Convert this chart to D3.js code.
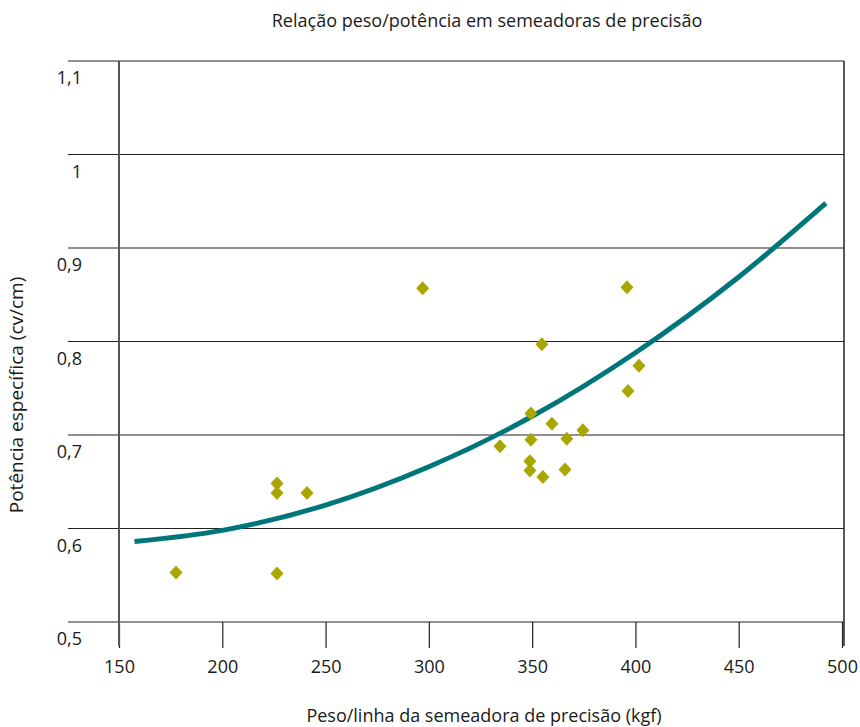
<!DOCTYPE html>
<html>
<head>
<meta charset="utf-8">
<script src="https://cdn.jsdelivr.net/npm/d3@7"></script>
<style>
  body { margin: 0; background: #fff; }
  svg { display: block; }
  text { font-family: "Open Sans", "Noto Sans", sans-serif; fill: #1a1a1a; }
</style>
</head>
<body>
<svg id="chart" width="860" height="727"></svg>
<script>
// Peso por linha (kgf) das semeadoras avaliadas
const pesoLinha = [177.6, 226.5, 226.5, 226.5, 241.0, 297.0, 395.9, 354.7, 401.7, 396.4,
                   349.4, 359.6, 374.6, 366.8, 349.4, 334.4, 348.9, 348.9, 365.9, 355.2];
// Potência específica (cv/cm) correspondente
const potencia = [0.553, 0.552, 0.648, 0.638, 0.638, 0.857, 0.858, 0.797, 0.774, 0.747,
                  0.723, 0.712, 0.705, 0.696, 0.695, 0.688, 0.672, 0.662, 0.663, 0.655];

// Linha de tendência
const tendX = [157.5, 200, 250, 300, 350, 400, 450, 492.2];
const tendY = [0.586, 0.598, 0.625, 0.666, 0.720, 0.788, 0.869, 0.948];

const xTicks = [150, 200, 250, 300, 350, 400, 450, 500];
const yTicks = [0.5, 0.6, 0.7, 0.8, 0.9, 1.0, 1.1];

const titulo = "Relação peso/potência em semeadoras de precisão";
const tituloX = "Peso/linha da semeadora de precisão (kgf)";
const tituloY = "Potência específica (cv/cm)";

const svg = d3.select("#chart");
const mLeft = 119, mRight = 842, mTop = 61, mBottom = 622;
const fs = 18;

const x = d3.scaleLinear().domain([150, 500]).range([mLeft, mRight]);
const y = d3.scaleLinear().domain([0.5, 1.1]).range([mBottom, mTop]);
const fmt = v => String(+v.toFixed(1)).replace(".", ",");

// Linhas de grade horizontais com rótulos abaixo de cada linha
const grid = svg.append("g");
grid.selectAll("line").data(yTicks).join("line")
  .attr("x1", 68).attr("x2", mRight + 2)
  .attr("y1", d => y(d)).attr("y2", d => y(d))
  .attr("stroke", "#222").attr("stroke-width", 1.2);
grid.selectAll("text").data(yTicks).join("text")
  .attr("x", 82).attr("y", d => y(d) + 23)
  .attr("text-anchor", "end")
  .attr("font-size", fs)
  .text(fmt);

// Eixo X com marcas
const xAxis = svg.append("g")
  .attr("transform", `translate(0,${mBottom})`)
  .call(d3.axisBottom(x).tickValues(xTicks).tickSize(26).tickFormat(d => d));
xAxis.select(".domain").remove();
xAxis.selectAll(".tick line").attr("stroke", "#222").attr("stroke-width", 1.2);
xAxis.selectAll(".tick text")
  .attr("y", 38).attr("font-size", fs).attr("fill", "#1a1a1a")
  .style("font-family", "'Open Sans', 'Noto Sans', sans-serif");

// Eixo vertical esquerdo e borda direita
svg.append("line").attr("x1", mLeft).attr("x2", mLeft).attr("y1", mTop).attr("y2", mBottom + 24)
  .attr("stroke", "#555").attr("stroke-width", 2);
svg.append("line").attr("x1", mRight + 2).attr("x2", mRight + 2).attr("y1", mTop).attr("y2", mBottom + 24)
  .attr("stroke", "#222").attr("stroke-width", 1.5);

// Curva de tendência
const line = d3.line().x(d => x(d[0])).y(d => y(d[1])).curve(d3.curveMonotoneX);
svg.append("path")
  .datum(d3.zip(tendX, tendY))
  .attr("d", line)
  .attr("fill", "none")
  .attr("stroke", "#00767a")
  .attr("stroke-width", 5);

// Pontos observados (losangos)
const diamond = "M0,-7L6.5,0L0,7L-6.5,0Z";
svg.append("g").selectAll("path").data(d3.zip(pesoLinha, potencia)).join("path")
  .attr("transform", d => `translate(${x(d[0])},${y(d[1])})`)
  .attr("d", diamond)
  .attr("fill", "#aaa600");

// Títulos
svg.append("text").attr("x", 487).attr("y", 27).attr("text-anchor", "middle")
  .attr("font-size", fs).text(titulo);
svg.append("text").attr("x", 484).attr("y", 722).attr("text-anchor", "middle")
  .attr("font-size", fs).text(tituloX);
svg.append("text").attr("transform", "translate(23,395) rotate(-90)")
  .attr("text-anchor", "middle").attr("font-size", 19).text(tituloY);
</script>
</body>
</html>
